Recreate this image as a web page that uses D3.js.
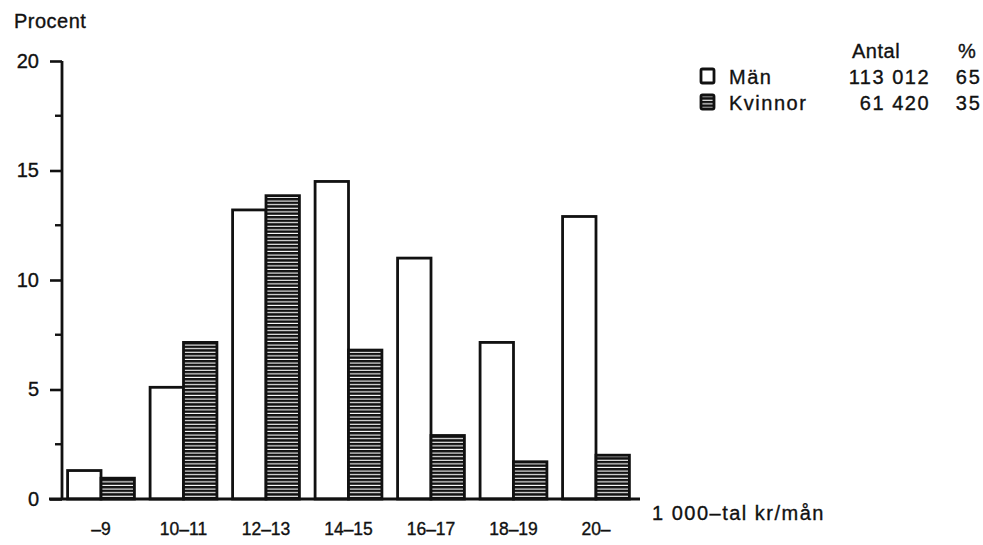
<!DOCTYPE html>
<html>
<head>
<meta charset="utf-8">
<script src="https://cdn.jsdelivr.net/npm/d3@7"></script>
<style>
  body { margin: 0; background: #fff; }
  text { font-family: "Liberation Sans", Arial, sans-serif; fill: #111; stroke: #111; stroke-width: 0.35px; }
</style>
</head>
<body>
<div id="root"></div>
<script>
// Kategorier (1 000-tal kr/mån) och andel i procent
const categories = ["\u20139", "10\u201311", "12\u201313", "14\u201315", "16\u201317", "18\u201319", "20\u2013"];
const man = [1.3, 5.1, 13.2, 14.5, 11.0, 7.15, 12.9];
const kvinnor = [0.95, 7.15, 13.85, 6.8, 2.9, 1.7, 2.0];
const series = ["Män", "Kvinnor"];
const yTicks = [0, 5, 10, 15, 20];
const yMinorTicks = [2.5, 7.5, 12.5, 17.5];
const legendAntal = ["113 012", "61 420"];
const legendProcent = ["65", "35"];

const W = 983, H = 545;
const ink = "#111";

const svg = d3.select("#root").append("svg")
    .attr("width", W)
    .attr("height", H);

// mönster för kvinnor (horisontella ränder)
const defs = svg.append("defs");
const pat = defs.append("pattern")
    .attr("id", "hatch")
    .attr("patternUnits", "userSpaceOnUse")
    .attr("width", 8)
    .attr("height", 3.6);
pat.append("rect").attr("width", 8).attr("height", 3.6).attr("fill", "#fff");
pat.append("rect").attr("y", 0).attr("width", 8).attr("height", 2.5).attr("fill", ink);

// skalor
const xScale = d3.scaleBand()
    .domain(categories)
    .range([61, 636])
    .paddingInner(0.19)
    .paddingOuter(0.08);

const xSub = d3.scaleBand()
    .domain(series)
    .range([0, xScale.bandwidth()]);

const yScale = d3.scaleLinear()
    .domain([0, 20])
    .range([499, 61]);

// staplar
const groups = svg.append("g").attr("class", "bars")
    .selectAll("g")
    .data(categories)
    .join("g")
    .attr("transform", d => `translate(${xScale(d)},0)`);

groups.selectAll("rect")
    .data((d, i) => [{ s: "Män", v: man[i] }, { s: "Kvinnor", v: kvinnor[i] }])
    .join("rect")
    .attr("x", d => xSub(d.s))
    .attr("y", d => yScale(d.v))
    .attr("width", xSub.bandwidth())
    .attr("height", d => yScale(0) - yScale(d.v))
    .attr("fill", d => d.s === "Män" ? "#fff" : "url(#hatch)")
    .attr("stroke", ink)
    .attr("stroke-width", 2.8);

// y-axel
const yAxis = d3.axisLeft(yScale)
    .tickValues(yTicks)
    .tickSize(12)
    .tickPadding(11)
    .tickFormat(d3.format("d"));

const yg = svg.append("g")
    .attr("transform", "translate(62,0)")
    .call(yAxis);
yg.select(".domain").attr("stroke", ink).attr("stroke-width", 2.8).attr("d", `M0,${yScale(20)}V${yScale(0)}`);
yg.selectAll(".tick line").attr("stroke", ink).attr("stroke-width", 2.6);
yg.selectAll(".tick text")
    .attr("font-size", 20)
    .attr("font-family", "Liberation Sans, Arial, sans-serif")
    .attr("fill", ink);

// mindre streck
svg.append("g")
    .selectAll("line")
    .data(yMinorTicks)
    .join("line")
    .attr("x1", 55).attr("x2", 62)
    .attr("y1", d => yScale(d)).attr("y2", d => yScale(d))
    .attr("stroke", ink)
    .attr("stroke-width", 2.4);

// baslinje
svg.append("line")
    .attr("x1", 49).attr("x2", 640)
    .attr("y1", yScale(0)).attr("y2", yScale(0))
    .attr("stroke", ink)
    .attr("stroke-width", 2.8);

// x-etiketter
const xAxis = d3.axisBottom(xScale).tickSize(0).tickPadding(0);
const xg = svg.append("g")
    .attr("transform", "translate(0,522)")
    .call(xAxis);
xg.select(".domain").remove();
xg.selectAll(".tick text")
    .attr("font-size", 17.5)
    .attr("font-family", "Liberation Sans, Arial, sans-serif")
    .attr("fill", ink)
    .attr("dy", "0.75em");

// axeltitlar
svg.append("text")
    .attr("x", 14).attr("y", 28)
    .attr("font-size", 20)
    .attr("letter-spacing", 0.5)
    .text("Procent");

svg.append("text")
    .attr("x", 652).attr("y", 520)
    .attr("font-size", 20)
    .attr("letter-spacing", 1.5)
    .text("1 000\u2013tal kr/mån");

// förklaring
const legend = svg.append("g").attr("class", "legend");
legend.append("text")
    .attr("x", 852).attr("y", 58)
    .attr("font-size", 20).attr("letter-spacing", 0.5)
    .text("Antal");
legend.append("text")
    .attr("x", 958).attr("y", 58)
    .attr("font-size", 20)
    .text("%");

series.forEach((s, i) => {
    const yb = 84 + i * 26;
    legend.append("rect")
        .attr("x", 701).attr("y", yb - 15)
        .attr("width", 13).attr("height", 14)
        .attr("rx", 1.5)
        .attr("fill", s === "Män" ? "#fff" : "url(#hatch)")
        .attr("stroke", ink)
        .attr("stroke-width", 2.8);
    legend.append("text")
        .attr("x", 729).attr("y", yb)
        .attr("font-size", 20).attr("letter-spacing", 1.5)
        .text(s);
    legend.append("text")
        .attr("x", 930).attr("y", yb)
        .attr("text-anchor", "end")
        .attr("font-size", 20).attr("letter-spacing", 1.5)
        .text(legendAntal[i]);
    legend.append("text")
        .attr("x", 982).attr("y", yb)
        .attr("text-anchor", "end")
        .attr("font-size", 20).attr("letter-spacing", 2)
        .text(legendProcent[i]);
});
</script>
</body>
</html>
